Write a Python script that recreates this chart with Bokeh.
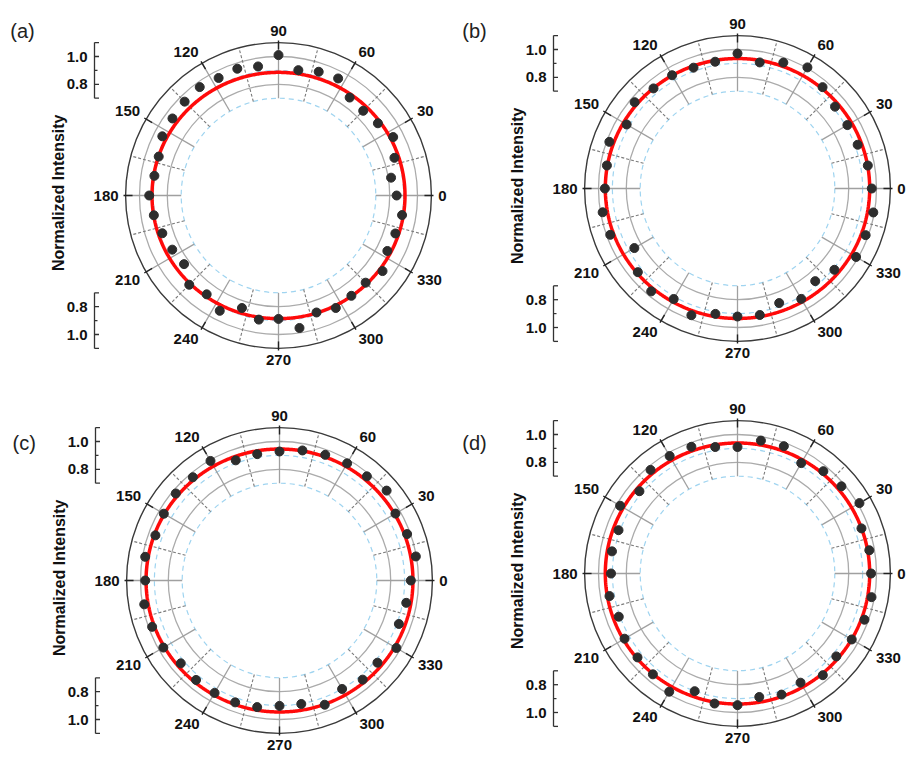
import numpy as np
from bokeh.plotting import figure
from bokeh.layouts import column, row
from bokeh.models import Range1d, ColumnDataSource
from bokeh.core.properties import value
from bokeh.embed import file_html
from bokeh.resources import INLINE

# ---------------- data ----------------
ANGLES_A = list(range(0, 360, 9))
INTENSITY_A = [0.850, 0.820, 0.877, 0.926, 0.884, 0.862, 0.871, 0.945, 0.936, 0.913,
               1.010, 0.940, 0.959, 0.949, 0.964, 0.955, 0.943, 0.938, 0.906, 0.904,
               0.930, 0.908, 0.879, 0.858, 0.840, 0.908, 0.879, 0.931, 0.851, 0.904,
               0.888, 0.965, 0.885, 0.908, 0.892, 0.887, 0.925, 0.879, 0.884, 0.900]

ANGLES_B = list(range(0, 360, 10))
INTENSITY_B = [0.966, 0.952, 0.920, 0.913, 0.916, 0.952, 1.006, 0.964, 0.921, 0.971,
               0.926, 0.925, 0.941, 0.940, 0.966, 0.921, 0.981, 0.954, 0.954, 0.985,
               0.974, 0.857, 0.936, 0.966, 0.918, 0.970, 0.916, 0.921, 0.924, 0.877,
               0.917, 0.870, 0.910, 0.985, 0.981, 0.992]

ANGLES_C = list(range(0, 360, 10))
INTENSITY_C = [0.945, 0.996, 0.977, 0.963, 1.006, 0.978, 0.973, 0.962, 0.950, 0.928,
               0.923, 0.920, 0.993, 0.970, 0.974, 0.961, 0.950, 0.981, 0.966, 0.988,
               0.975, 0.965, 0.927, 0.934, 0.934, 0.933, 0.925, 0.902, 0.902, 0.951,
               0.901, 0.931, 0.920, 0.971, 0.914, 0.926]

ANGLES_D = list(range(0, 360, 10))
INTENSITY_D = [0.961, 0.963, 0.949, 1.013, 0.976, 0.961, 0.917, 0.975, 0.971, 0.910,
               0.924, 0.970, 0.976, 0.973, 0.921, 0.975, 0.911, 0.917, 0.910, 0.935,
               0.909, 0.938, 0.939, 0.947, 0.982, 0.901, 0.950, 0.947, 0.902, 0.927,
               0.907, 0.955, 0.928, 0.949, 0.972, 0.979]

# fitted curve parameters: r = A + B*cos(2*theta)
FIT_A = (0.898, 0.012)
FIT_B = (0.943, 0.008)
FIT_C = (0.953, 0.007)
FIT_D = (0.945, 0.006)

PANEL_LABELS = ["(a)", "(b)", "(c)", "(d)"]
Y_TITLE = "Normalized Intensity"
ANGLE_TICKS = list(range(0, 360, 30))
ANGLE_MINOR = list(range(15, 360, 30))
RADIAL_MAJOR = [0.8, 1.0]
RADIAL_MINOR = [0.9]
RADIAL_LABELS = ["0.8", "1.0"]
GRID_SOLID = [0.8, 1.0]
GRID_DASHED = [0.7, 0.9]
R_MIN, R_MAX = 0.7, 1.1

# ---------------- layout / style ----------------
S = 139.0                     # pixels per intensity unit
FONT = "Liberation Sans"
LABEL_R = 1.15
BRACKET_X = -184 / S
BRACKET_LABEL_X = -191 / S
TITLE_X = -220 / S
TICK_MAJ = 4.5 / S
TICK_MIN = 3 / S


def make_panel(label, angles, vals, fit, w, h, cx, cy, lab_xy):
    p = figure(width=w, height=h, output_backend="svg", toolbar_location=None,
               x_range=Range1d(-cx / S, (w - cx) / S),
               y_range=Range1d(-(h - cy) / S, cy / S),
               x_axis_location=None, y_axis_location=None, min_border=0)
    p.grid.visible = False
    p.outline_line_color = None
    p.background_fill_color = "white"
    p.border_fill_color = "white"

    # grid circles
    nd = len(GRID_DASHED)
    p.circle(x=[0] * nd, y=[0] * nd, radius=GRID_DASHED, fill_color=None,
             line_color="#9fd4f0", line_width=1.2, line_dash="5 4")
    ns = len(GRID_SOLID)
    p.circle(x=[0] * ns, y=[0] * ns, radius=GRID_SOLID, fill_color=None,
             line_color="#ababab", line_width=1.3)

    # spokes
    maj = np.deg2rad(ANGLE_TICKS)
    p.segment(x0=R_MIN * np.cos(maj), y0=R_MIN * np.sin(maj),
              x1=R_MAX * np.cos(maj), y1=R_MAX * np.sin(maj),
              line_color="#a0a0a0", line_width=1.3)
    mnr = np.deg2rad(ANGLE_MINOR)
    p.segment(x0=R_MIN * np.cos(mnr), y0=R_MIN * np.sin(mnr),
              x1=R_MAX * np.cos(mnr), y1=R_MAX * np.sin(mnr),
              line_color="#7a7a7a", line_width=1.1, line_dash="3 2")

    # outer circle with ticks
    p.circle(x=[0], y=[0], radius=[R_MAX], fill_color=None,
             line_color="#3a3a3a", line_width=1.4)
    p.segment(x0=(R_MAX - 0.05) * np.cos(maj), y0=(R_MAX - 0.05) * np.sin(maj),
              x1=(R_MAX + 0.015) * np.cos(maj), y1=(R_MAX + 0.015) * np.sin(maj),
              line_color="#222222", line_width=1.4)

    # fitted curve
    th = np.deg2rad(np.linspace(0, 360, 721))
    rf = fit[0] + fit[1] * np.cos(2 * th)
    p.line(rf * np.cos(th), rf * np.sin(th), line_color="#ff0a0a", line_width=3.5)

    # data points
    a = np.deg2rad(angles)
    v = np.array(vals)
    p.scatter(v * np.cos(a), v * np.sin(a), size=9, color="#2d2d2d")

    # angle labels
    ca, sa = np.cos(maj), np.sin(maj)
    aligns = ["left" if c > 0.1 else ("right" if c < -0.1 else "center") for c in ca]
    bases = ["bottom" if s > 0.1 else ("top" if s < -0.1 else "middle") for s in sa]
    src = ColumnDataSource(dict(x=LABEL_R * ca, y=LABEL_R * sa,
                                t=[str(d) for d in ANGLE_TICKS], al=aligns, bl=bases))
    p.text(x="x", y="y", text="t", source=src, text_align="al", text_baseline="bl",
           text_font=value(FONT), text_font_style="bold", text_font_size="15px",
           text_color="#111111")

    # radial scale brackets (upper: values upward, lower: values downward)
    for sign in (1, -1):
        p.segment(x0=[BRACKET_X], y0=[sign * R_MIN], x1=[BRACKET_X], y1=[sign * R_MAX],
                  line_color="#333333", line_width=1.3)
        ends = [R_MIN, R_MAX] + RADIAL_MAJOR
        p.segment(x0=[BRACKET_X] * len(ends), y0=[sign * r for r in ends],
                  x1=[BRACKET_X + TICK_MAJ] * len(ends), y1=[sign * r for r in ends],
                  line_color="#333333", line_width=1.3)
        p.segment(x0=[BRACKET_X] * len(RADIAL_MINOR), y0=[sign * r for r in RADIAL_MINOR],
                  x1=[BRACKET_X + TICK_MIN] * len(RADIAL_MINOR),
                  y1=[sign * r for r in RADIAL_MINOR],
                  line_color="#333333", line_width=1.2)
        p.text(x=[BRACKET_LABEL_X] * len(RADIAL_MAJOR), y=[sign * r for r in RADIAL_MAJOR],
               text=RADIAL_LABELS, text_align="right", text_baseline="middle",
               text_font=value(FONT), text_font_style="bold", text_font_size="15px",
               text_color="#111111")

    # axis title
    p.text(x=[TITLE_X], y=[0.02], text=[Y_TITLE], angle=np.pi / 2,
           text_align="center", text_baseline="middle",
           text_font=value(FONT), text_font_style="bold", text_font_size="16px",
           text_color="#111111")

    # panel label
    p.text(x=[lab_xy[0]], y=[lab_xy[1]], text=[label], text_align="left",
           text_baseline="middle", text_font=value(FONT), text_font_size="20px",
           text_color="#222222")
    return p


p1 = make_panel(PANEL_LABELS[0], ANGLES_A, INTENSITY_A, FIT_A, 453, 380, 278, 195, (-1.93, 1.18))
p2 = make_panel(PANEL_LABELS[1], ANGLES_B, INTENSITY_B, FIT_B, 453, 380, 284, 188, (-1.98, 1.13))
p3 = make_panel(PANEL_LABELS[2], ANGLES_C, INTENSITY_C, FIT_C, 453, 378, 279, 200, (-1.92, 0.99))
p4 = make_panel(PANEL_LABELS[3], ANGLES_D, INTENSITY_D, FIT_D, 453, 378, 284, 193, (-1.98, 0.94))

layout = column(row(p1, p2), row(p3, p4))
open("out.html", "w").write(file_html(layout, INLINE))
